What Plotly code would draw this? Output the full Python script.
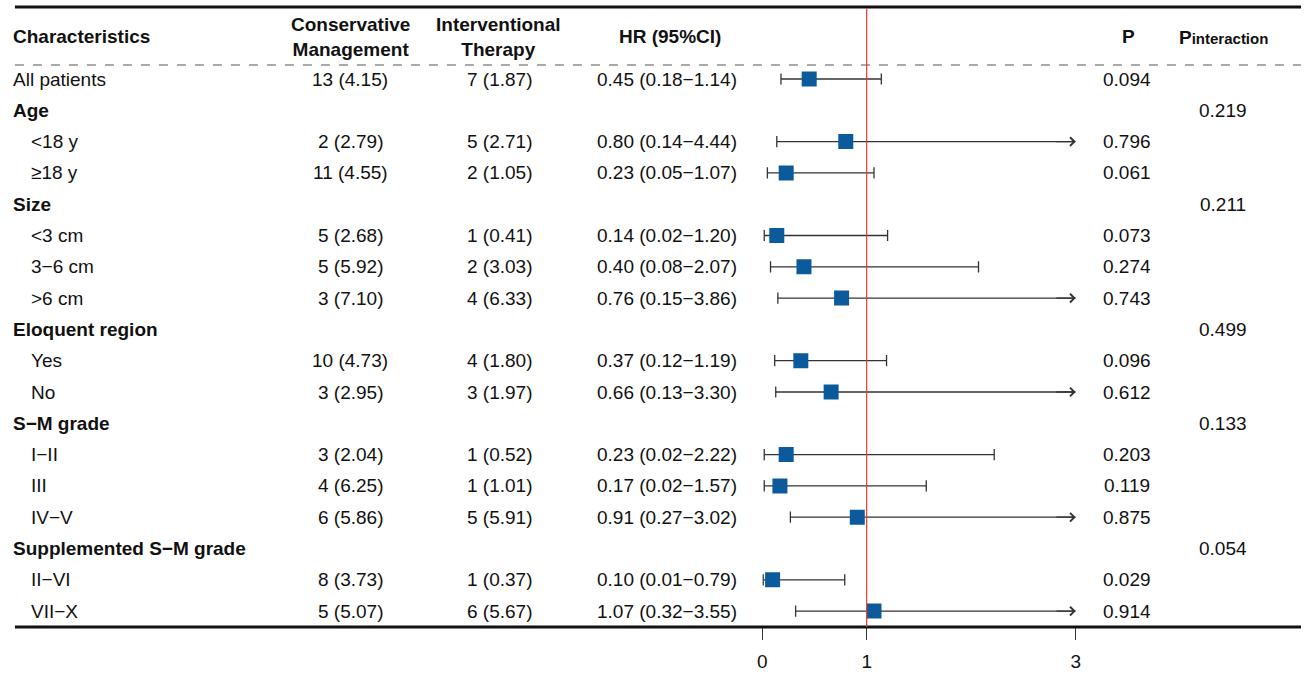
import plotly.graph_objects as go

W, H = 1306, 673

# ---------------- data ----------------
labels = ["All patients", "Age", "<18 y", "≥18 y", "Size", "<3 cm", "3−6 cm", ">6 cm",
          "Eloquent region", "Yes", "No", "S−M grade", "I−II", "III", "IV−V",
          "Supplemented S−M grade", "II−VI", "VII−X"]
is_heading = [False, True, False, False, True, False, False, False, True, False, False,
              True, False, False, False, True, False, False]
conservative = ["13 (4.15)", "", "2 (2.79)", "11 (4.55)", "", "5 (2.68)", "5 (5.92)", "3 (7.10)",
                "", "10 (4.73)", "3 (2.95)", "", "3 (2.04)", "4 (6.25)", "6 (5.86)", "",
                "8 (3.73)", "5 (5.07)"]
interventional = ["7 (1.87)", "", "5 (2.71)", "2 (1.05)", "", "1 (0.41)", "2 (3.03)", "4 (6.33)",
                  "", "4 (1.80)", "3 (1.97)", "", "1 (0.52)", "1 (1.01)", "5 (5.91)", "",
                  "1 (0.37)", "6 (5.67)"]
hr = [0.45, None, 0.80, 0.23, None, 0.14, 0.40, 0.76, None, 0.37, 0.66, None, 0.23, 0.17, 0.91,
      None, 0.10, 1.07]
lower = [0.18, None, 0.14, 0.05, None, 0.02, 0.08, 0.15, None, 0.12, 0.13, None, 0.02, 0.02, 0.27,
         None, 0.01, 0.32]
upper = [1.14, None, 4.44, 1.07, None, 1.20, 2.07, 3.86, None, 1.19, 3.30, None, 2.22, 1.57, 3.02,
         None, 0.79, 3.55]
p_values = ["0.094", "", "0.796", "0.061", "", "0.073", "0.274", "0.743", "", "0.096", "0.612",
            "", "0.203", "0.119", "0.875", "", "0.029", "0.914"]
p_interaction = ["", "0.219", "", "", "0.211", "", "", "", "0.499", "", "", "0.133", "", "", "",
                 "0.054", "", ""]
x_ticks = [0, 1, 3]
x_max = 3

# ---------------- layout helpers ----------------
FONT = "Liberation Sans, Arial, sans-serif"
FS = 19
BOX_COLOR = "#0B5A9C"
LINE_COLOR = "#333333"
ROW0_PX, PITCH = 79, 31.3
BOTTOM_PX, TOP_PX, DASH_PX, HEAD_PX = 627, 7, 65, 36


def px2x(px):
    return px / W


def px2y(py):
    return 1 - py / H


rows = list(range(len(labels)))

fig = go.Figure()

# CI lines
lx, ly, cap_x, cap_y = [], [], [], []
arrows = []
for i in rows:
    if hr[i] is None:
        continue
    end = min(upper[i], x_max)
    lx += [lower[i], end, None]
    ly += [i, i, None]
    cap_x.append(lower[i]); cap_y.append(i)
    if upper[i] <= x_max:
        cap_x.append(upper[i]); cap_y.append(i)
    else:
        arrows.append(i)

fig.add_trace(go.Scatter(x=lx, y=ly, mode="lines", line=dict(color=LINE_COLOR, width=1.3),
                         hoverinfo="skip", showlegend=False))
fig.add_trace(go.Scatter(x=cap_x, y=cap_y, mode="markers",
                         marker=dict(symbol="line-ns", size=8, line=dict(color=LINE_COLOR, width=1.3)),
                         hoverinfo="skip", showlegend=False))
fig.add_trace(go.Scatter(x=[h for h in hr if h is not None],
                         y=[i for i in rows if hr[i] is not None], mode="markers",
                         marker=dict(symbol="square", size=15, color=BOX_COLOR, line=dict(width=0)),
                         showlegend=False))

annotations = []
for i in arrows:
    annotations.append(dict(x=x_max, y=i, xref="x", yref="y", ax=x_max - 0.2, ay=i,
                            axref="x", ayref="y", text="", showarrow=True, arrowhead=4,
                            arrowsize=1.3, arrowwidth=1.3, arrowcolor=LINE_COLOR, standoff=0))


def add_text(xpx, y, text, anchor="center", yref="y", bold=False, size=FS):
    annotations.append(dict(x=px2x(xpx), y=y, xref="paper", yref=yref,
                            text=(f"<b>{text}</b>" if bold else text),
                            showarrow=False, xanchor=anchor, yanchor="middle",
                            font=dict(family=FONT, size=size, color="#111111")))


# header
hy = px2y(HEAD_PX)
add_text(6, hy, "Characteristics", anchor="left", yref="paper", bold=True)
add_text(348, px2y(HEAD_PX + 1), "Conservative<br>Management", yref="paper", bold=True)
add_text(497, px2y(HEAD_PX + 1), "Interventional<br>Therapy", yref="paper", bold=True)
add_text(670, hy, "HR (95%CI)", yref="paper", bold=True)
add_text(1132, hy, "P", yref="paper", bold=True)
add_text(1228, px2y(HEAD_PX + 1), "P<span style='font-size:15px'>interaction</span>",
         yref="paper", bold=True)

for i in rows:
    if is_heading[i]:
        add_text(6, i, labels[i], anchor="left", bold=True)
    elif i == 0:
        add_text(6, i, labels[i], anchor="left")
    else:
        add_text(24, i, labels[i], anchor="left")
    if conservative[i]:
        add_text(348, i, conservative[i])
    if interventional[i]:
        add_text(498, i, interventional[i])
    if hr[i] is not None:
        add_text(667, i, f"{hr[i]:.2f} ({lower[i]:.2f}−{upper[i]:.2f})")
    if p_values[i]:
        add_text(1131, i, p_values[i])
    if p_interaction[i]:
        add_text(1227, i, p_interaction[i])

shapes = [
    dict(type="line", xref="paper", yref="paper", x0=px2x(10), x1=1, y0=px2y(TOP_PX), y1=px2y(TOP_PX),
         line=dict(color="#111111", width=3)),
    dict(type="line", xref="paper", yref="paper", x0=px2x(10), x1=1, y0=px2y(DASH_PX), y1=px2y(DASH_PX),
         line=dict(color="#555555", width=1.2, dash="dash")),
    dict(type="line", xref="paper", yref="paper", x0=px2x(10), x1=1, y0=px2y(BOTTOM_PX), y1=px2y(BOTTOM_PX),
         line=dict(color="#111111", width=3)),
    dict(type="line", xref="x", yref="paper", x0=1, x1=1, y0=px2y(TOP_PX + 1), y1=px2y(BOTTOM_PX),
         line=dict(color="#E53A2C", width=1.2)),
]

fig.update_layout(
    width=W, height=H, margin=dict(l=0, r=0, t=0, b=0),
    paper_bgcolor="white", plot_bgcolor="white",
    annotations=annotations, shapes=shapes,
    xaxis=dict(domain=[px2x(763), px2x(1079)], range=[0, x_max], tickvals=x_ticks,
               ticks="outside", ticklen=12, tickwidth=1.3, tickcolor=LINE_COLOR,
               showline=False, showgrid=False, zeroline=False,
               tickfont=dict(family=FONT, size=FS, color="#111111"), ticklabelstandoff=5),
    yaxis=dict(domain=[px2y(BOTTOM_PX), 1],
               range=[(BOTTOM_PX - ROW0_PX) / PITCH, -ROW0_PX / PITCH],
               visible=False),
    showlegend=False,
)

fig.write_html("out.html", config={"displayModeBar": False},
               post_script="document.body.style.margin='0';")
